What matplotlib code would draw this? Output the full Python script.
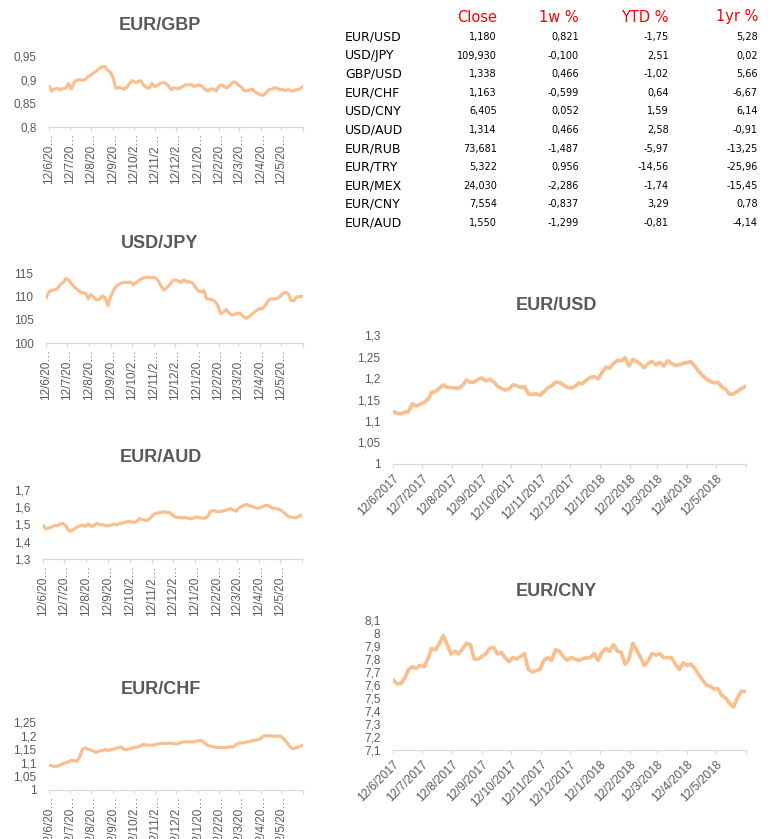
import matplotlib
matplotlib.use("Agg")
import matplotlib.pyplot as plt
import pandas as pd


# one reading every 4 days, 12/6/2017 .. 11/6/2018
dates = pd.date_range("2017-06-12", periods=92, freq="4D")
axis_end = pd.Timestamp("2018-06-12")
month_ticks = list(pd.date_range("2017-06-12", periods=12, freq=pd.DateOffset(months=1)))

long_labels = ["12/6/2017", "12/7/2017", "12/8/2017", "12/9/2017", "12/10/2017", "12/11/2017",
               "12/12/2017", "12/1/2018", "12/2/2018", "12/3/2018", "12/4/2018", "12/5/2018"]
short_labels = ["12/6/20…", "12/7/20…", "12/8/20…", "12/9/20…", "12/10/2…", "12/11/2…",
                "12/12/2…", "12/1/20…", "12/2/20…", "12/3/20…", "12/4/20…", "12/5/20…"]

eur_gbp = [0.886, 0.876, 0.880, 0.882, 0.879, 0.881, 0.882, 0.892, 0.880, 0.894,
           0.899, 0.900, 0.899, 0.900, 0.906, 0.910, 0.914, 0.918, 0.923, 0.927,
           0.928, 0.920, 0.916, 0.905, 0.882, 0.884, 0.882, 0.880, 0.884, 0.892,
           0.898, 0.894, 0.896, 0.898, 0.888, 0.884, 0.882, 0.892, 0.885, 0.888,
           0.892, 0.894, 0.892, 0.886, 0.879, 0.883, 0.881, 0.882, 0.885, 0.889,
           0.889, 0.890, 0.886, 0.887, 0.889, 0.886, 0.880, 0.876, 0.880, 0.880,
           0.876, 0.886, 0.889, 0.885, 0.883, 0.888, 0.895, 0.895, 0.889, 0.885,
           0.878, 0.876, 0.878, 0.880, 0.874, 0.871, 0.868, 0.867, 0.872, 0.879,
           0.880, 0.883, 0.882, 0.879, 0.879, 0.877, 0.879, 0.876, 0.877, 0.879,
           0.880, 0.884]

usd_jpy = [109.6, 110.9, 111.3, 111.4, 111.6, 112.5, 112.9, 113.8, 113.5, 112.8,
           112.0, 111.6, 111.0, 110.7, 110.7, 109.5, 110.4, 109.8, 109.2, 109.4,
           110.1, 109.7, 108.0, 110.0, 111.3, 112.2, 112.6, 112.9, 113.0, 112.9,
           113.1, 112.5, 112.9, 113.4, 113.8, 114.0, 114.1, 114.0, 114.1, 113.9,
           113.2, 112.0, 111.3, 112.0, 112.5, 113.4, 113.5, 113.3, 113.0, 113.5,
           113.1, 113.1, 112.9, 112.0, 111.2, 110.9, 111.3, 109.5, 109.4, 109.3,
           108.9, 108.0, 106.3, 106.6, 107.2, 106.4, 106.0, 106.1, 106.4, 106.3,
           105.7, 105.3, 105.6, 106.1, 106.6, 107.1, 107.4, 107.4, 108.2, 109.2,
           109.5, 109.4, 109.5, 109.9, 110.6, 110.9, 110.6, 109.1, 109.1, 109.9,
           109.9, 110.0]

eur_aud = [1.495, 1.474, 1.479, 1.484, 1.495, 1.492, 1.502, 1.506, 1.494, 1.465,
           1.463, 1.475, 1.484, 1.492, 1.496, 1.490, 1.503, 1.489, 1.494, 1.507,
           1.499, 1.498, 1.494, 1.492, 1.497, 1.503, 1.498, 1.506, 1.508, 1.514,
           1.517, 1.516, 1.512, 1.517, 1.534, 1.529, 1.524, 1.525, 1.540, 1.558,
           1.565, 1.568, 1.573, 1.572, 1.569, 1.566, 1.550, 1.542, 1.542, 1.539,
           1.540, 1.537, 1.533, 1.537, 1.545, 1.539, 1.537, 1.537, 1.545, 1.576,
           1.581, 1.576, 1.575, 1.577, 1.580, 1.586, 1.592, 1.585, 1.577, 1.596,
           1.604, 1.613, 1.616, 1.607, 1.604, 1.596, 1.594, 1.600, 1.608, 1.611,
           1.603, 1.594, 1.594, 1.588, 1.580, 1.568, 1.553, 1.542, 1.542, 1.538,
           1.547, 1.554]

eur_chf = [1.091, 1.089, 1.086, 1.088, 1.091, 1.097, 1.100, 1.104, 1.109, 1.107,
           1.107, 1.120, 1.150, 1.155, 1.149, 1.147, 1.143, 1.138, 1.144, 1.144,
           1.149, 1.146, 1.148, 1.150, 1.153, 1.157, 1.158, 1.149, 1.149, 1.152,
           1.155, 1.156, 1.158, 1.163, 1.168, 1.165, 1.165, 1.165, 1.166, 1.169,
           1.171, 1.171, 1.171, 1.172, 1.172, 1.170, 1.169, 1.173, 1.176, 1.177,
           1.177, 1.177, 1.177, 1.180, 1.182, 1.181, 1.172, 1.164, 1.161, 1.159,
           1.157, 1.156, 1.156, 1.156, 1.156, 1.159, 1.157, 1.165, 1.172, 1.173,
           1.173, 1.177, 1.178, 1.181, 1.183, 1.184, 1.189, 1.198, 1.200, 1.199,
           1.198, 1.198, 1.198, 1.198, 1.191, 1.181, 1.167, 1.154, 1.152, 1.156,
           1.160, 1.164]

eur_usd = [1.122, 1.118, 1.117, 1.120, 1.122, 1.140, 1.135, 1.139, 1.143, 1.150,
           1.166, 1.169, 1.176, 1.184, 1.178, 1.178, 1.177, 1.176, 1.183, 1.195,
           1.190, 1.191, 1.197, 1.200, 1.193, 1.197, 1.191, 1.181, 1.176, 1.172,
           1.175, 1.184, 1.182, 1.178, 1.180, 1.163, 1.162, 1.163, 1.160, 1.168,
           1.177, 1.182, 1.190, 1.190, 1.184, 1.179, 1.176, 1.180, 1.188, 1.187,
           1.195, 1.201, 1.203, 1.198, 1.212, 1.225, 1.223, 1.234, 1.241, 1.240,
           1.247, 1.228, 1.243, 1.238, 1.232, 1.224, 1.234, 1.238, 1.231, 1.236,
           1.228, 1.240, 1.234, 1.229, 1.231, 1.234, 1.236, 1.238, 1.228, 1.216,
           1.206, 1.198, 1.192, 1.189, 1.190, 1.179, 1.174, 1.162, 1.163, 1.169,
           1.175, 1.180]

eur_cny = [7.64, 7.61, 7.61, 7.65, 7.72, 7.74, 7.73, 7.75, 7.74, 7.80,
           7.88, 7.87, 7.92, 7.98, 7.91, 7.84, 7.86, 7.84, 7.88, 7.92,
           7.91, 7.80, 7.80, 7.82, 7.84, 7.88, 7.89, 7.84, 7.85, 7.81,
           7.78, 7.81, 7.80, 7.82, 7.84, 7.72, 7.70, 7.71, 7.72, 7.79,
           7.81, 7.79, 7.87, 7.86, 7.82, 7.79, 7.81, 7.80, 7.79, 7.80,
           7.81, 7.81, 7.84, 7.79, 7.85, 7.88, 7.86, 7.91, 7.86, 7.85,
           7.76, 7.80, 7.92, 7.87, 7.81, 7.75, 7.79, 7.84, 7.83, 7.84,
           7.81, 7.81, 7.81, 7.76, 7.72, 7.77, 7.75, 7.76, 7.73, 7.68,
           7.64, 7.60, 7.59, 7.57, 7.57, 7.52, 7.50, 7.46, 7.43, 7.50,
           7.55, 7.55]

# summary table
pairs = ["EUR/USD", "USD/JPY", "GBP/USD", "EUR/CHF", "USD/CNY", "USD/AUD",
         "EUR/RUB", "EUR/TRY", "EUR/MEX", "EUR/CNY", "EUR/AUD"]
close = [1.180, 109.930, 1.338, 1.163, 6.405, 1.314, 73.681, 5.322, 24.030, 7.554, 1.550]
chg_1w = [0.821, -0.100, 0.466, -0.599, 0.052, 0.466, -1.487, 0.956, -2.286, -0.837, -1.299]
chg_ytd = [-1.75, 2.51, -1.02, 0.64, 1.59, 2.58, -5.97, -14.56, -1.74, 3.29, -0.81]
chg_1yr = [5.28, 0.02, 5.66, -6.67, 6.14, -0.91, -13.25, -25.96, -15.45, 0.78, -4.14]

W, H = 781, 839
line_color = "#F8BF8F"
text_gray = "#595959"
axis_gray = "#D9D9D9"

fig = plt.figure(figsize=(W / 100, H / 100), dpi=100)


def comma(v, fmt):
    return format(v, fmt).replace(".", ",")


def px_rect(x0, y0, x1, y1):
    # pixel box (top-left origin) -> figure fraction rect
    return [x0 / W, 1 - y1 / H, (x1 - x0) / W, (y1 - y0) / H]


def chart(rect, values, yticks, title, title_xy, small):
    ax = fig.add_axes(rect)
    ax.plot(dates, values, color=line_color, lw=2.3 if small else 2.7, solid_joinstyle="round")
    ax.set_ylim(yticks[0], yticks[-1])
    ax.set_yticks(yticks)
    ax.set_yticklabels([comma(t, "g") for t in yticks], family="Liberation Sans",
                       fontsize=8.5, color=text_gray)
    ax.set_xlim(dates[0], axis_end)
    ax.set_xticks(month_ticks + [axis_end])
    if small:
        ax.set_xticklabels(short_labels + [""], rotation=90, family="Liberation Sans",
                           fontsize=8.5, color=text_gray, ha="center", va="top")
    else:
        ax.set_xticklabels(long_labels + [""], rotation=45, family="Liberation Sans",
                           fontsize=8.5, color=text_gray, ha="right", va="top",
                           rotation_mode="anchor")
    ax.tick_params(axis="y", length=0, pad=9)
    ax.tick_params(axis="x", length=3, width=0.8, color=axis_gray, pad=1.5 if small else 3)
    for side in ["top", "right", "left"]:
        ax.spines[side].set_visible(False)
    ax.spines["bottom"].set_color(axis_gray)
    ax.spines["bottom"].set_linewidth(0.9)
    fig.text(title_xy[0] / W, 1 - title_xy[1] / H, title, ha="center", va="center",
             family="Liberation Sans", fontweight="bold", fontsize=13, color=text_gray)
    return ax


chart(px_rect(49, 56, 303, 127), eur_gbp, [0.8, 0.85, 0.9, 0.95], "EUR/GBP", (160, 25), True)
chart(px_rect(46, 273, 303, 343), usd_jpy, [100, 105, 110, 115], "USD/JPY", (160, 243), True)
chart(px_rect(43, 490, 302, 559), eur_aud, [1.3, 1.4, 1.5, 1.6, 1.7], "EUR/AUD", (161, 458), True)
chart(px_rect(49, 722, 303, 790), eur_chf, [1, 1.05, 1.1, 1.15, 1.2, 1.25], "EUR/CHF", (161, 689), True)
chart(px_rect(393, 335, 746, 464), eur_usd, [1, 1.05, 1.1, 1.15, 1.2, 1.25, 1.3],
      "EUR/USD", (556, 305), False)
chart(px_rect(393, 620, 746, 750), eur_cny, [7.1, 7.2, 7.3, 7.4, 7.5, 7.6, 7.7, 7.8, 7.9, 8, 8.1],
      "EUR/CNY", (556, 591), False)

# table at top right
col_right = [497, 579, 669, 758]
headers = ["Close", "1w %", "YTD %", "1yr %"]
for x, h in zip(col_right, headers):
    fig.text(x / W, 1 - 17 / H, h, ha="right", va="center", family="DejaVu Sans",
             fontsize=10.5, color="#FF0000")

for i, name in enumerate(pairs):
    y = 1 - (37 + 18.6 * i) / H
    fig.text(345 / W, y, name, ha="left", va="center", family="DejaVu Sans",
             fontsize=9, color="black")
    cells = [comma(close[i], ".3f"), comma(chg_1w[i], ".3f"),
             comma(chg_ytd[i], ".2f"), comma(chg_1yr[i], ".2f")]
    for x, c in zip(col_right, cells):
        fig.text(x / W, y, c, ha="right", va="center", family="DejaVu Sans",
                 fontsize=7, color="black")

fig.savefig("out.png", dpi=100)
print("saved: out.png")
